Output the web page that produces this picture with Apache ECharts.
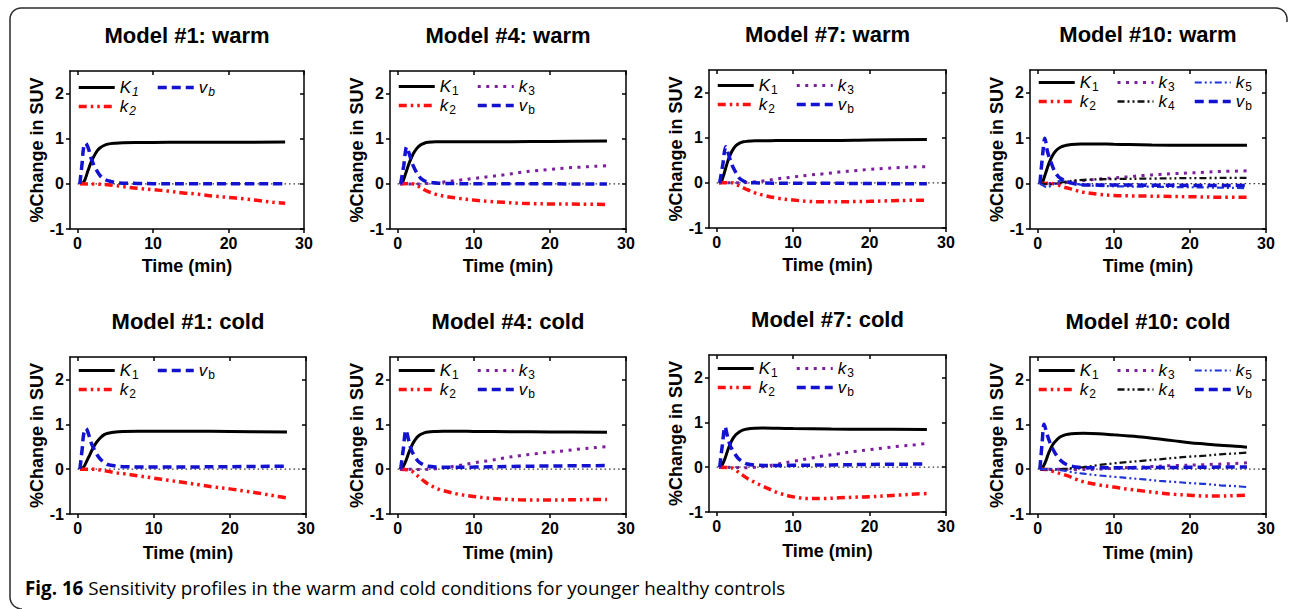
<!DOCTYPE html>
<html><head><meta charset="utf-8">
<script src="https://cdn.jsdelivr.net/npm/echarts@6/dist/echarts.min.js"></script>
<style>html,body{margin:0;padding:0;background:#fff}#c{width:1290px;height:609px}</style>
</head><body><div id="c"></div>
<script>
// ---------------- data ----------------
const timeTicks = [0, 10, 20, 30];
const suvTicks = [-1, 0, 1, 2];
const zeroLine = [[0, 0], [29.8, 0]];
const panelTitles = ['Model #1: warm', 'Model #4: warm', 'Model #7: warm', 'Model #10: warm',
                     'Model #1: cold', 'Model #4: cold', 'Model #7: cold', 'Model #10: cold'];
const xAxisName = 'Time (min)';
const yAxisName = '%Change in SUV';
const captionBold = 'Fig. 16';
const captionText = 'Sensitivity profiles in the warm and cold conditions for younger healthy controls';

// Model #1 warm
const w1_K1 = [[0.3,0],[0.7,0.02],[1,0.1],[1.4,0.3],[1.8,0.48],[2.2,0.62],[2.6,0.73],[3,0.8],[3.5,0.85],[4,0.88],[5,0.9],[6,0.91],[8,0.915],[12,0.92],[20,0.92],[27.5,0.925]];
const w1_k2 = [[0.3,0],[2,-0.005],[3,-0.01],[4,-0.02],[5,-0.04],[6,-0.06],[8,-0.1],[10,-0.13],[12,-0.16],[14,-0.2],[16,-0.23],[18,-0.27],[20,-0.3],[22,-0.33],[24,-0.37],[26,-0.41],[27.5,-0.43]];
const w1_vb = [[0.3,0],[0.6,0.45],[0.8,0.8],[1.05,0.9],[1.4,0.8],[1.8,0.57],[2.2,0.4],[2.6,0.28],[3,0.18],[3.5,0.11],[4,0.07],[5,0.03],[6,0.015],[8,0.01],[10,0.005],[15,0],[20,0],[27.5,0]];
// Model #4 warm
const w4_K1 = [[0.3,0],[0.6,0.02],[1,0.2],[1.5,0.45],[2,0.65],[2.5,0.78],[3,0.86],[3.5,0.9],[4,0.92],[5,0.93],[7,0.93],[10,0.93],[15,0.935],[20,0.94],[27.5,0.95]];
const w4_k2 = [[0.3,0],[1.5,0.01],[2,0],[2.5,-0.03],[3,-0.08],[3.5,-0.13],[4,-0.17],[5,-0.23],[6,-0.27],[8,-0.32],[10,-0.36],[12,-0.39],[14,-0.41],[16,-0.43],[18,-0.44],[20,-0.445],[24,-0.45],[27.5,-0.455]];
const w4_k3 = [[0.3,0],[2,-0.005],[3,0],[4,0.01],[5,0.025],[6,0.04],[8,0.08],[10,0.12],[12,0.16],[14,0.2],[16,0.25],[18,0.29],[20,0.32],[22,0.35],[24,0.37],[26,0.39],[27.5,0.4]];
const w4_vb = [[0.4,0],[0.8,0.4],[1.2,0.82],[1.5,0.68],[2,0.42],[2.5,0.25],[3,0.13],[3.5,0.07],[4,0.04],[5,0.02],[6,0.01],[8,0.005],[10,0],[15,0],[20,0],[27.5,-0.005]];
// Model #7 warm
const w7_K1 = [[0.3,0],[0.6,0.02],[1,0.22],[1.5,0.5],[2,0.7],[2.5,0.82],[3,0.88],[3.5,0.91],[4,0.92],[5,0.93],[7,0.935],[10,0.94],[15,0.94],[20,0.95],[27.5,0.96]];
const w7_k2 = [[0.3,0],[2,0],[2.5,-0.03],[3,-0.07],[3.5,-0.11],[4,-0.15],[5,-0.22],[6,-0.27],[8,-0.34],[10,-0.38],[12,-0.41],[14,-0.42],[16,-0.42],[18,-0.415],[20,-0.41],[22,-0.4],[24,-0.39],[27.5,-0.385]];
const w7_k3 = [[0.3,0],[3,0],[4,0.01],[5,0.025],[6,0.04],[8,0.09],[10,0.13],[12,0.17],[14,0.2],[16,0.24],[18,0.27],[20,0.3],[22,0.32],[24,0.34],[26,0.355],[27.5,0.36]];
const w7_vb = [[0.4,0],[0.8,0.4],[1.2,0.8],[1.5,0.66],[2,0.4],[2.5,0.23],[3,0.1],[3.5,0.04],[4,0.01],[5,0],[6,-0.005],[10,-0.01],[15,-0.01],[20,-0.015],[27.5,-0.02]];
// Model #10 warm
const w10_K1 = [[0.3,0],[0.6,0.02],[1,0.2],[1.5,0.45],[2,0.63],[2.5,0.74],[3,0.8],[3.5,0.83],[4,0.85],[5,0.865],[6,0.87],[7,0.873],[8,0.872],[10,0.865],[12,0.86],[15,0.85],[20,0.845],[24,0.845],[27.5,0.845]];
const w10_k2 = [[0.3,0],[1.5,0.01],[2,0],[2.5,-0.02],[3,-0.05],[3.5,-0.08],[4,-0.1],[5,-0.15],[6,-0.19],[8,-0.235],[10,-0.26],[12,-0.27],[14,-0.275],[16,-0.28],[20,-0.29],[24,-0.3],[27.5,-0.3]];
const w10_k3 = [[0.3,0],[2,0],[3,0.01],[4,0.03],[5,0.05],[6,0.065],[8,0.1],[10,0.125],[12,0.15],[14,0.18],[16,0.2],[18,0.22],[20,0.235],[22,0.25],[24,0.265],[27.5,0.28]];
const w10_k4 = [[0.3,0],[1,-0.01],[1.5,-0.02],[2,-0.01],[3,0.02],[4,0.05],[5,0.07],[6,0.08],[8,0.095],[10,0.1],[15,0.11],[20,0.12],[27.5,0.125]];
const w10_k5 = [[0.3,0],[0.8,-0.05],[1.2,-0.08],[1.8,-0.04],[2.5,0.03],[3.2,0.07],[4,0.05],[5,0],[6,-0.03],[8,-0.05],[10,-0.06],[15,-0.07],[20,-0.08],[27.5,-0.1]];
const w10_vb = [[0.3,0],[0.7,0.7],[0.95,1.0],[1.3,0.7],[1.8,0.45],[2.3,0.25],[2.8,0.14],[3.4,0.08],[4,0.03],[5,-0.01],[6,-0.03],[8,-0.03],[10,-0.03],[15,-0.035],[20,-0.04],[27.5,-0.04]];
// Model #1 cold
const c1_K1 = [[0.3,0],[0.8,0.05],[1.2,0.18],[1.6,0.32],[2,0.46],[2.5,0.6],[3,0.7],[3.5,0.77],[4,0.8],[5,0.83],[6,0.84],[8,0.845],[10,0.845],[15,0.845],[20,0.84],[27.5,0.83]];
const c1_k2 = [[0.3,0],[2,0],[3,-0.02],[4,-0.05],[5,-0.08],[6,-0.1],[8,-0.15],[10,-0.2],[12,-0.25],[14,-0.3],[16,-0.35],[18,-0.4],[20,-0.44],[22,-0.49],[24,-0.54],[26,-0.6],[27.5,-0.64]];
const c1_vb = [[0.3,0],[0.6,0.45],[0.8,0.78],[1.1,0.91],[1.4,0.8],[1.8,0.58],[2.2,0.43],[2.6,0.31],[3,0.22],[3.5,0.15],[4,0.1],[5,0.07],[6,0.055],[8,0.05],[10,0.05],[15,0.05],[20,0.055],[27.5,0.065]];
// Model #4 cold
const c4_K1 = [[0.3,0],[0.6,0.02],[1,0.15],[1.5,0.38],[2,0.57],[2.5,0.7],[3,0.77],[3.5,0.81],[4,0.83],[5,0.84],[6,0.845],[8,0.845],[10,0.84],[15,0.835],[20,0.83],[27.5,0.82]];
const c4_k2 = [[0.3,0],[1.5,-0.02],[2,-0.06],[2.5,-0.13],[3,-0.2],[3.5,-0.27],[4,-0.33],[5,-0.42],[6,-0.48],[8,-0.56],[10,-0.61],[12,-0.65],[14,-0.67],[16,-0.685],[18,-0.69],[20,-0.69],[22,-0.685],[24,-0.68],[27.5,-0.675]];
const c4_k3 = [[0.3,0],[2,0],[3,-0.01],[4,-0.005],[5,0.01],[6,0.03],[8,0.08],[10,0.14],[12,0.19],[14,0.25],[16,0.3],[18,0.34],[20,0.38],[22,0.41],[24,0.45],[26,0.48],[27.5,0.5]];
const c4_vb = [[0.4,0],[0.75,0.45],[1.1,0.87],[1.4,0.68],[1.8,0.43],[2.3,0.27],[2.8,0.16],[3.5,0.09],[4,0.065],[5,0.05],[7,0.04],[10,0.045],[15,0.06],[20,0.07],[27.5,0.08]];
// Model #7 cold
const c7_K1 = [[0.3,0],[0.6,0.02],[1,0.15],[1.5,0.4],[2,0.6],[2.5,0.72],[3,0.79],[3.5,0.83],[4,0.85],[5,0.865],[6,0.87],[8,0.865],[10,0.86],[15,0.85],[20,0.845],[27.5,0.84]];
const c7_k2 = [[0.3,0],[2,-0.02],[2.5,-0.07],[3,-0.13],[3.5,-0.19],[4,-0.25],[5,-0.34],[6,-0.42],[8,-0.57],[10,-0.66],[12,-0.7],[14,-0.7],[16,-0.685],[18,-0.67],[20,-0.66],[22,-0.64],[24,-0.62],[26,-0.6],[27.5,-0.59]];
const c7_k3 = [[0.3,0],[3,-0.01],[4,-0.015],[5,-0.005],[6,0.01],[8,0.07],[10,0.13],[12,0.19],[14,0.25],[16,0.3],[18,0.35],[20,0.39],[22,0.43],[24,0.47],[26,0.5],[27.5,0.53]];
const c7_vb = [[0.4,0],[0.75,0.5],[1.1,0.9],[1.4,0.7],[1.8,0.47],[2.3,0.32],[2.8,0.2],[3.5,0.11],[4,0.07],[5,0.045],[7,0.035],[10,0.04],[15,0.05],[20,0.06],[27.5,0.07]];
// Model #10 cold
const c10_K1 = [[0.3,0],[0.6,0.02],[1,0.15],[1.5,0.38],[2,0.55],[2.5,0.65],[3,0.72],[3.5,0.76],[4,0.78],[5,0.795],[6,0.8],[8,0.79],[10,0.765],[12,0.74],[14,0.71],[16,0.67],[18,0.63],[20,0.59],[22,0.56],[24,0.53],[26,0.51],[27.5,0.49]];
const c10_k2 = [[0.3,0],[1.5,-0.01],[2,-0.05],[3,-0.1],[4,-0.15],[5,-0.22],[6,-0.28],[8,-0.35],[10,-0.4],[12,-0.45],[14,-0.49],[16,-0.53],[18,-0.56],[20,-0.58],[22,-0.6],[24,-0.6],[26,-0.59],[27.5,-0.58]];
const c10_k3 = [[0.3,0],[3,0],[5,-0.01],[8,0],[10,0.02],[14,0.05],[18,0.08],[22,0.1],[27.5,0.14]];
const c10_k4 = [[0.3,0],[2,-0.01],[3,0],[4,0.01],[5,0.03],[6,0.045],[8,0.09],[10,0.13],[12,0.16],[14,0.19],[16,0.22],[18,0.25],[20,0.28],[22,0.3],[24,0.33],[26,0.35],[27.5,0.37]];
const c10_k5 = [[0.3,0],[2,0],[3,-0.02],[4,-0.05],[5,-0.08],[6,-0.1],[8,-0.14],[10,-0.17],[12,-0.2],[14,-0.23],[16,-0.26],[18,-0.285],[20,-0.31],[22,-0.33],[24,-0.36],[26,-0.38],[27.5,-0.4]];
const c10_vb = [[0.3,0],[0.6,0.6],[0.85,1.0],[1.2,0.8],[1.6,0.6],[2,0.45],[2.5,0.3],[3,0.2],[3.5,0.13],[4,0.09],[5,0.05],[6,0.035],[8,0.03],[10,0.03],[15,0.035],[20,0.04],[27.5,0.05]];

const panelSeries = [
  {K1: w1_K1, k2: w1_k2, vb: w1_vb},
  {K1: w4_K1, k2: w4_k2, k3: w4_k3, vb: w4_vb},
  {K1: w7_K1, k2: w7_k2, k3: w7_k3, vb: w7_vb},
  {K1: w10_K1, k2: w10_k2, k3: w10_k3, k4: w10_k4, k5: w10_k5, vb: w10_vb},
  {K1: c1_K1, k2: c1_k2, vb: c1_vb},
  {K1: c4_K1, k2: c4_k2, k3: c4_k3, vb: c4_vb},
  {K1: c7_K1, k2: c7_k2, k3: c7_k3, vb: c7_vb},
  {K1: c10_K1, k2: c10_k2, k3: c10_k3, k4: c10_k4, k5: c10_k5, vb: c10_vb}
];

// ---------------- layout & styles ----------------
const FONT = "'Liberation Sans', Arial, Helvetica, sans-serif";
const CAPFONT = "'Open Sans', 'Noto Sans', sans-serif";
const GRID = [
  [70, 71, 234, 158], [390, 71, 236, 158], [709, 70, 237, 158], [1030, 70, 236, 159],
  [70, 357, 236, 157], [390, 357, 236, 157], [709, 355, 237, 157], [1030, 357, 236, 157]
];
const LEGEND_TOP = [8, 7, 7, 4, 5, 5, 5, 5];
const LEGEND_COLS = {
  3: [['K1', 'k2'], ['vb']],
  4: [['K1', 'k2'], ['k3', 'vb']],
  6: [['K1', 'k2'], ['k3', 'k4'], ['k5', 'vb']]
};
const LEGEND_X = [7, 86, 163];
const STYLE = {
  K1: {color: '#000000', width: 3, type: 'solid'},
  k2: {color: '#ff1010', width: 3.5, type: [8, 4, 2.5, 4, 2.5, 4]},
  k3: {color: '#7d1e9e', width: 3, type: [3, 5.5]},
  k4: {color: '#111111', width: 2.3, type: [7, 3, 2, 3, 2, 3]},
  k5: {color: '#1f35d8', width: 2.2, type: [7, 3, 2, 3, 2, 3]},
  vb: {color: '#1212d0', width: 3.5, type: [9, 5]}
};
const ORDER = ['K1', 'k2', 'k3', 'k4', 'k5', 'vb'];
const SUB = {K1: ['K', '1'], k2: ['k', '2'], k3: ['k', '3'], k4: ['k', '4'], k5: ['k', '5'], vb: ['v', 'b']};

const option = {
  animation: false,
  backgroundColor: '#ffffff',
  grid: [], xAxis: [], yAxis: [], series: [], legend: [], graphic: []
};

const axisLineStyle = {color: '#000', width: 1.5};
const tickLabel = {color: '#000', fontWeight: 'bold', fontSize: 16, fontFamily: FONT};
const nameStyle = {color: '#000', fontWeight: 'bold', fontSize: 18, fontFamily: FONT};

panelSeries.forEach((ps, i) => {
  const g = GRID[i];
  const row2 = i >= 4;
  option.grid.push({left: g[0], top: g[1], width: g[2], height: g[3]});
  option.xAxis.push({
    type: 'value', gridIndex: i, min: -1, max: 30, position: 'bottom',
    axisLine: {show: true, onZero: false, lineStyle: axisLineStyle},
    axisTick: {show: true, inside: false, length: 4, customValues: timeTicks, lineStyle: axisLineStyle},
    axisLabel: {show: true, customValues: timeTicks, margin: 6, ...tickLabel},
    splitLine: {show: false},
    name: xAxisName, nameLocation: 'middle', nameGap: row2 ? 30 : 28, nameTextStyle: nameStyle
  });
  option.yAxis.push({
    type: 'value', gridIndex: i, min: -1, max: 2.5, position: 'left',
    axisLine: {show: true, onZero: false, lineStyle: axisLineStyle},
    axisTick: {show: true, inside: false, length: 4, customValues: suvTicks, lineStyle: axisLineStyle},
    axisLabel: {show: true, customValues: suvTicks, margin: 6, ...tickLabel},
    splitLine: {show: false},
    name: yAxisName, nameLocation: 'middle', nameRotate: 90, nameGap: 23, nameTextStyle: nameStyle
  });
  option.graphic.push({
    type: 'text', x: g[0] + g[2] / 2, y: g[1] - 36, silent: true,
    style: {text: panelTitles[i], fill: '#000', font: 'bold 22px ' + FONT, textAlign: 'center', textVerticalAlign: 'middle'}
  });
  option.series.push({
    type: 'line', name: 'zero', xAxisIndex: i, yAxisIndex: i, data: zeroLine, silent: true,
    symbol: 'none', lineStyle: {color: '#333', width: 1.2, type: [1.5, 3]}, z: 1
  });
  ORDER.forEach(key => {
    if (!ps[key]) return;
    const st = STYLE[key];
    option.series.push({
      type: 'line', name: key, xAxisIndex: i, yAxisIndex: i, data: ps[key], silent: true,
      symbol: 'none', showSymbol: false, smooth: 0.35,
      lineStyle: {color: st.color, width: st.width, type: st.type},
      itemStyle: {color: st.color}, z: 2
    });
  });
  const italicSub = (i === 0);
  const cols = LEGEND_COLS[Object.keys(ps).length];
  cols.forEach((col, c) => {
    option.legend.push({
      data: col, orient: 'vertical', left: g[0] + LEGEND_X[c], top: g[1] + LEGEND_TOP[i],
      itemWidth: 36, itemHeight: 14, itemGap: 0, padding: 0, selectedMode: false,
      itemStyle: {opacity: 0, borderWidth: 0},
      lineStyle: {width: 'inherit'},
      formatter: n => '{i|' + SUB[n][0] + '}{' + (italicSub ? 'si' : 's') + '|' + SUB[n][1] + '}',
      textStyle: {
        color: '#000', fontSize: 16, fontFamily: FONT,
        rich: {
          i: {fontSize: 17, fontStyle: 'italic', fontFamily: FONT, color: '#000'},
          s: {fontSize: 12, fontFamily: FONT, color: '#000', padding: [9, 0, 0, 1]},
          si: {fontSize: 12, fontStyle: 'italic', fontFamily: FONT, color: '#000', padding: [9, 0, 0, 1]}
        }
      }
    });
  });
});

GRID.forEach((g, i) => {
  option.xAxis.push({
    type: 'value', gridIndex: i, min: -1, max: 30, position: 'top',
    axisLine: {show: true, onZero: false, lineStyle: axisLineStyle},
    axisTick: {show: true, inside: true, length: 4, customValues: timeTicks, lineStyle: axisLineStyle},
    axisLabel: {show: false}, splitLine: {show: false}
  });
  option.yAxis.push({
    type: 'value', gridIndex: i, min: -1, max: 2.5, position: 'right',
    axisLine: {show: true, onZero: false, lineStyle: axisLineStyle},
    axisTick: {show: true, inside: true, length: 4, customValues: suvTicks, lineStyle: axisLineStyle},
    axisLabel: {show: false}, splitLine: {show: false}
  });
});

// frame (rounded corners approximated by short polylines) and caption
function arcPts(cx, cy, r, a0, a1) {
  const pts = [];
  for (let k = 0; k <= 8; k++) {
    const a = a0 + (a1 - a0) * k / 8;
    pts.push([cx + r * Math.cos(a), cy + r * Math.sin(a)]);
  }
  return pts;
}
const framePts = [].concat(
  arcPts(22, 597, 12, Math.PI / 2, Math.PI),
  arcPts(21, 19, 11, Math.PI, 1.5 * Math.PI),
  arcPts(1276, 19, 11, 1.5 * Math.PI, 2 * Math.PI),
  [[1287, 22]]
);
option.graphic.push({
  type: 'polyline', silent: true,
  shape: {points: framePts},
  style: {fill: null, stroke: '#2b2b2b', lineWidth: 1.5}
});
option.graphic.push({
  type: 'text', x: 25, y: 588, silent: true,
  style: {
    text: '{b|' + captionBold + '}{r| ' + captionText + '}',
    textVerticalAlign: 'middle',
    rich: {
      b: {fontFamily: CAPFONT, fontWeight: 'bold', fontSize: 18.8, color: '#222'},
      r: {fontFamily: CAPFONT, fontSize: 18.8, color: '#333'}
    }
  }
});

const chart = echarts.init(document.getElementById('c'), null, {renderer: 'svg', width: 1290, height: 609});
chart.setOption(option);
</script>
</body></html>
